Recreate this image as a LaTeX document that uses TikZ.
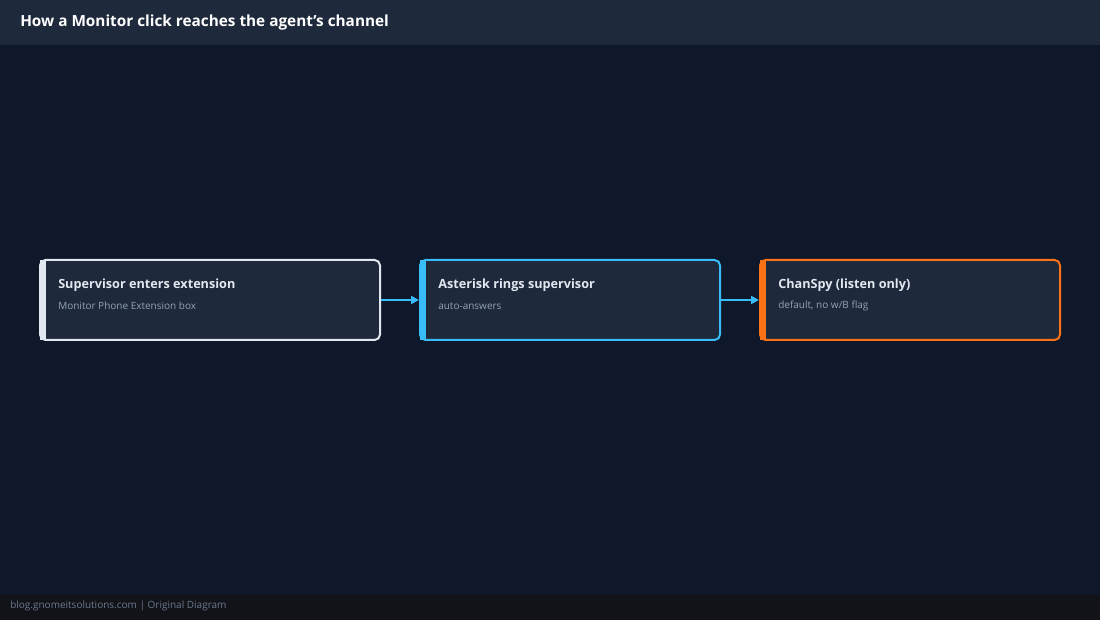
\documentclass[tikz,border=0pt]{standalone}
\usepackage{fontspec}
\setmainfont{Open Sans}
\usetikzlibrary{arrows.meta}
\definecolor{bg}{HTML}{0F172A}
\definecolor{hdr}{HTML}{1E293B}
\definecolor{box}{HTML}{1E293B}
\definecolor{foot}{HTML}{111318}
\definecolor{wht}{HTML}{E2E8F0}
\definecolor{blu}{HTML}{38BDF8}
\definecolor{org}{HTML}{F97316}
\definecolor{sub}{HTML}{94A3B8}
\begin{document}
\begin{tikzpicture}[x=0.75pt,y=-0.75pt,
  step/.style={draw=#1,line width=1.5pt,fill=box,rounded corners=4pt,minimum width=255pt,minimum height=60pt,inner sep=0pt},
  title/.style={anchor=west,text=wht,font=\bfseries\fontsize{9.5}{11}\selectfont,inner sep=0pt},
  subt/.style={anchor=west,text=sub,font=\fontsize{7.5}{9}\selectfont,inner sep=0pt},
  arr/.style={draw=blu,line width=1.5pt,-{Triangle[length=6pt,width=6pt]}}]
\useasboundingbox (0,0) rectangle (1100,620);
\fill[bg] (0,0) rectangle (1100,620);
\fill[hdr] (0,0) rectangle (1100,45);
\fill[foot] (0,594) rectangle (1100,620);
\node[anchor=west,text=white,font=\bfseries\fontsize{11.5}{13}\selectfont,inner sep=0pt] (hd) at (20,23) {How a Monitor click reaches the agent's channel};
\node[anchor=west,text=sub!70!bg,font=\fontsize{7.5}{9}\selectfont,inner sep=0pt] (ft) at (10,606) {blog.gnomeitsolutions.com | Original Diagram};
\node[step=wht,minimum width=255pt] (a) at (210,300) {};
\node[step=blu,minimum width=225pt] (b) at (570,300) {};
\node[step=org,minimum width=225pt] (c) at (910,300) {};
\fill[wht] (40,260) rectangle (46,340);
\fill[blu] (420,260) rectangle (426,340);
\fill[org] (760,260) rectangle (766,340);
\node[title] (at) at (58,285) {Supervisor enters extension};
\node[subt] (as) at (58,306) {Monitor Phone Extension box};
\node[title] (bt) at (438,285) {Asterisk rings supervisor};
\node[subt] (bs) at (438,306) {auto-answers};
\node[title] (ct) at (778,285) {ChanSpy (listen only)};
\node[subt] (cs) at (778,306) {default, no w/B flag};
\draw[arr] (a.east) -- (b.west);
\draw[arr] (b.east) -- (c.west);
\end{tikzpicture}
\end{document}
